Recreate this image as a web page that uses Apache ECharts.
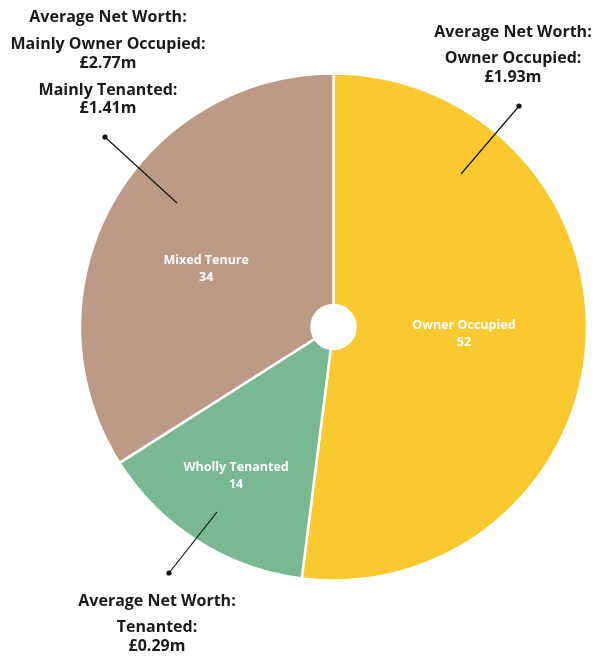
<!DOCTYPE html>
<html>
<head>
<meta charset="utf-8">
<script src="https://cdn.jsdelivr.net/npm/echarts@6/dist/echarts.min.js"></script>
<style>
  html, body { margin: 0; padding: 0; background: #ffffff; }
  #chart { width: 608px; height: 657px; }
</style>
</head>
<body>
<div id="chart"></div>
<script>
// Household tenure split (percent of households)
const categories = ['Owner Occupied', 'Wholly Tenanted', 'Mixed Tenure'];
const shares = [52, 14, 34];
const sliceColors = ['#F9C92F', '#78B893', '#BD9A86'];

// Callout texts
const calloutTopLeft = ['Average Net Worth:', 'Mainly Owner Occupied:', '£2.77m', 'Mainly Tenanted:', '£1.41m'];
const calloutTopRight = ['Average Net Worth:', 'Owner Occupied:', '£1.93m'];
const calloutBottom = ['Average Net Worth:', 'Tenanted:', '£0.29m'];

const FONT = '"Open Sans", Lato, sans-serif';

// small nudges of the in-slice labels
const labelNudge = [[-10, -2], [-22, 30], [-4, 10]];

const chart = echarts.init(document.getElementById('chart'), null, { renderer: 'canvas' });

function textLine(text, x, y) {
  return {
    type: 'text', x: x, y: y, z: 100,
    style: {
      text: text, fill: '#1a1a1a', font: 'bold 16px ' + FONT,
      align: 'center', verticalAlign: 'middle'
    }
  };
}

function leader(x1, y1, x2, y2) {
  return [
    { type: 'line', z: 100, shape: { x1: x1, y1: y1, x2: x2, y2: y2 }, style: { stroke: '#111', lineWidth: 1.2 } },
    { type: 'circle', z: 100, shape: { cx: x1, cy: y1, r: 2.6 }, style: { fill: '#111' } }
  ];
}

const graphics = []
  .concat([17, 44, 63, 90, 108].map((y, i) => textLine(calloutTopLeft[i], 108, y)))
  .concat([32, 58, 77].map((y, i) => textLine(calloutTopRight[i], 513, y)))
  .concat([601, 627, 646].map((y, i) => textLine(calloutBottom[i], 157, y)))
  .concat(leader(105, 137, 177, 203))
  .concat(leader(519, 106, 461, 174))
  .concat(leader(169, 573, 217, 512));

chart.setOption({
  backgroundColor: '#ffffff',
  animation: false,
  series: [{
    type: 'pie',
    z: 2,
    center: [333.5, 327],
    radius: [22, 253.5],
    startAngle: 90,
    clockwise: true,
    data: categories.map((name, i) => ({
      name: name, value: shares[i], itemStyle: { color: sliceColors[i] }
    })),
    itemStyle: { borderColor: '#ffffff', borderWidth: 2.5 },
    label: {
      position: 'inner',
      formatter: '{b}\n{c}',
      color: '#ffffff',
      fontFamily: FONT,
      fontWeight: 'bold',
      fontSize: 12.5,
      lineHeight: 17,
      align: 'center'
    },
    labelLine: { show: false },
    emphasis: { disabled: true },
    labelLayout: function (params) {
      const n = labelNudge[params.dataIndex];
      return { dx: n[0], dy: n[1] };
    }
  }],
  graphic: graphics
});
</script>
</body>
</html>
